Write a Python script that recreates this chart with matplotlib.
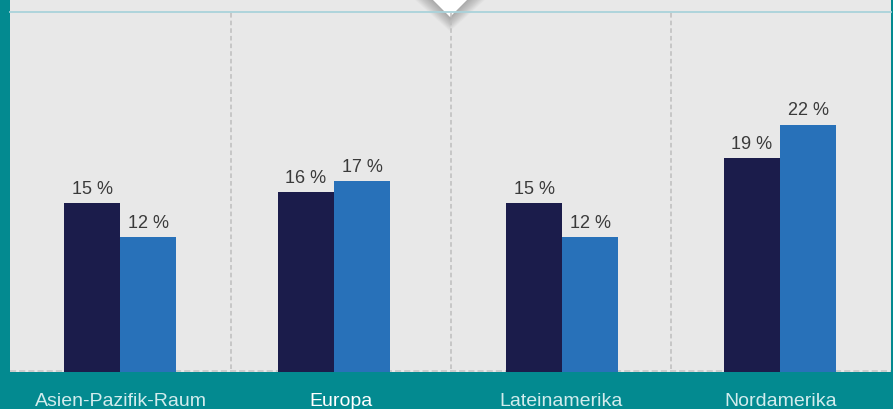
import matplotlib.pyplot as plt
from matplotlib.patches import Rectangle, Polygon

# Data
regions = ["Asien-Pazifik-Raum", "Europa", "Lateinamerika", "Nordamerika"]
series_a = [15, 16, 15, 19]   # dark bars
series_b = [12, 17, 12, 22]   # blue bars
value_fmt = "{} %"

# Layout (pixel units of the 893x409 canvas)
W, H = 893, 409
panel_left, panel_right, panel_bottom = 10, 891, 372
group_centers = [120, 334, 562, 780]
separators = [231, 451, 671]
bar_w = 56
px_per_pct = 11.25

TEAL = "#038a90"
PANEL = "#e8e8e8"
DARK = "#1b1c4b"
BLUE = "#2871b9"

plt.rcParams["font.family"] = ["Liberation Sans", "DejaVu Sans"]

fig = plt.figure(figsize=(W / 100, H / 100), dpi=100)
fig.patch.set_facecolor(TEAL)

# Background layer in pixel coordinates
bg = fig.add_axes([0, 0, 1, 1], zorder=0)
bg.set_xlim(0, W)
bg.set_ylim(H, 0)
bg.axis("off")
bg.add_patch(Rectangle((panel_left, 0), panel_right - panel_left, panel_bottom,
                       facecolor=PANEL, edgecolor="none"))
bg.plot([panel_left, panel_right], [12.3, 12.3], color="#a9d2da", lw=1.3)
for sx in separators:
    bg.plot([sx, sx], [12.5, panel_bottom], color="#bdbdbd", lw=1.1,
            dashes=(3, 2))
bg.plot([panel_left, panel_right], [panel_bottom - 1, panel_bottom - 1],
        color="#c4c4c4", lw=1.1, dashes=(4, 2))

# Notch triangle with a soft shadow
cx = 450
n = 14
for i in range(n):
    g = 18 * (1 - i / n)
    bg.add_patch(Polygon([(cx - 17 - g, 0), (cx + 17 + g, 0),
                          (cx, 17 + g * 0.8)],
                         closed=True, facecolor="black", alpha=0.018,
                         edgecolor="none"))
bg.add_patch(Polygon([(cx - 17, 0), (cx + 17, 0), (cx, 17)], closed=True,
                     facecolor="white", edgecolor="none"))

# Bar layer
ax = fig.add_axes([panel_left / W, (H - panel_bottom) / H,
                   (panel_right - panel_left) / W, panel_bottom / H], zorder=1)
ax.set_xlim(panel_left, panel_right)
ax.set_ylim(0, panel_bottom / px_per_pct)
ax.patch.set_alpha(0)
ax.axis("off")

xa = [c - bar_w / 2 for c in group_centers]
xb = [c + bar_w / 2 for c in group_centers]
ax.bar(xa, series_a, width=bar_w, color=DARK, linewidth=0)
ax.bar(xb, series_b, width=bar_w, color=BLUE, linewidth=0)

for xs, vals in ((xa, series_a), (xb, series_b)):
    for x, v in zip(xs, vals):
        ax.annotate(value_fmt.format(v), (x, v), xytext=(0, 6.5),
                    textcoords="offset points", ha="center", va="baseline",
                    fontsize=13, color="#3a3a3a")

# Region labels on the teal band
label_centers = [120.5, 341, 561, 781]
for name, lx in zip(regions, label_centers):
    col = "white" if name == "Europa" else "#d2eced"
    bg.text(lx, 406, name, ha="center", va="baseline", fontsize=14, color=col)

fig.savefig("out.png", dpi=100, facecolor=TEAL)
